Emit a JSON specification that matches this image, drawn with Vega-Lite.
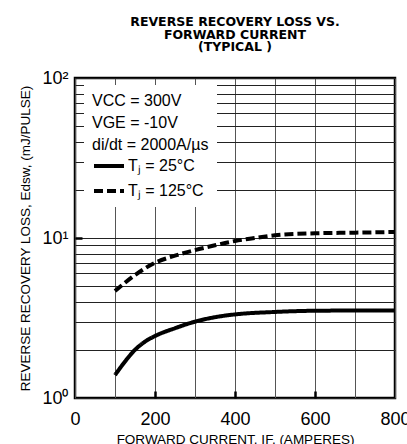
{
  "$schema": "https://vega.github.io/schema/vega-lite/v6.json",
  "width": 320,
  "height": 320,
  "autosize": {"type": "none"},
  "padding": {"left": 75, "top": 78, "right": 12, "bottom": 46},
  "background": "white",
  "title": {
    "text": ["REVERSE RECOVERY LOSS VS.", "FORWARD CURRENT", "(TYPICAL )"],
    "font": "DejaVu Sans",
    "fontSize": 12.5,
    "fontWeight": "bold",
    "lineHeight": 12.8,
    "anchor": "middle",
    "frame": "group",
    "offset": 15,
    "color": "black"
  },
  "config": {
    "view": {"stroke": "black", "strokeWidth": 2.5},
    "font": "Liberation Sans"
  },
  "data": {
    "values": [
      {"I": 100, "E": 1.39, "Tj": "Tⱼ = 25°C"},
      {"I": 125, "E": 1.69, "Tj": "Tⱼ = 25°C"},
      {"I": 150, "E": 2.0, "Tj": "Tⱼ = 25°C"},
      {"I": 175, "E": 2.25, "Tj": "Tⱼ = 25°C"},
      {"I": 200, "E": 2.44, "Tj": "Tⱼ = 25°C"},
      {"I": 250, "E": 2.73, "Tj": "Tⱼ = 25°C"},
      {"I": 300, "E": 3.0, "Tj": "Tⱼ = 25°C"},
      {"I": 350, "E": 3.2, "Tj": "Tⱼ = 25°C"},
      {"I": 400, "E": 3.33, "Tj": "Tⱼ = 25°C"},
      {"I": 500, "E": 3.45, "Tj": "Tⱼ = 25°C"},
      {"I": 600, "E": 3.51, "Tj": "Tⱼ = 25°C"},
      {"I": 700, "E": 3.52, "Tj": "Tⱼ = 25°C"},
      {"I": 800, "E": 3.52, "Tj": "Tⱼ = 25°C"},
      {"I": 100, "E": 4.66, "Tj": "Tⱼ = 125°C"},
      {"I": 150, "E": 5.87, "Tj": "Tⱼ = 125°C"},
      {"I": 200, "E": 7.0, "Tj": "Tⱼ = 125°C"},
      {"I": 250, "E": 7.75, "Tj": "Tⱼ = 125°C"},
      {"I": 300, "E": 8.4, "Tj": "Tⱼ = 125°C"},
      {"I": 350, "E": 9.0, "Tj": "Tⱼ = 125°C"},
      {"I": 400, "E": 9.58, "Tj": "Tⱼ = 125°C"},
      {"I": 450, "E": 10.0, "Tj": "Tⱼ = 125°C"},
      {"I": 500, "E": 10.4, "Tj": "Tⱼ = 125°C"},
      {"I": 600, "E": 10.7, "Tj": "Tⱼ = 125°C"},
      {"I": 700, "E": 10.8, "Tj": "Tⱼ = 125°C"},
      {"I": 800, "E": 10.9, "Tj": "Tⱼ = 125°C"}
    ]
  },
  "mark": {"type": "line", "interpolate": "monotone", "strokeWidth": 4, "color": "black"},
  "encoding": {
    "x": {
      "field": "I",
      "type": "quantitative",
      "scale": {"domain": [0, 800], "nice": false},
      "axis": {
        "values": [0, 100, 200, 300, 400, 500, 600, 700, 800],
        "labelExpr": "datum.value % 200 == 0 ? datum.label : ''",
        "format": "d",
        "labelFont": "Liberation Sans",
        "labelFontSize": 18,
        "labelColor": "black",
        "labelFlush": false,
        "labelOverlap": false,
        "labelBound": false,
        "labelPadding": 19,
        "domain": false,
        "grid": true,
        "gridColor": "#555555",
        "gridWidth": 1,
        "gridOpacity": 1,
        "ticks": true,
        "tickSize": -7,
        "tickColor": "black",
        "tickWidth": {"condition": {"test": "datum.value == 200 || datum.value == 400 || datum.value == 600", "value": 2.5}, "value": 0},
        "title": "FORWARD CURRENT, IF, (AMPERES)",
        "titleFont": "Liberation Sans",
        "titleFontSize": 13.5,
        "titleFontWeight": "normal",
        "titleColor": "black",
        "titlePadding": 4
      }
    },
    "y": {
      "field": "E",
      "type": "quantitative",
      "scale": {"type": "log", "domain": [1, 100], "nice": false},
      "axis": {
        "values": [1, 2, 3, 4, 5, 6, 7, 8, 9, 10, 20, 30, 40, 50, 60, 70, 80, 90, 100],
        "labelExpr": "datum.value == 1 ? '10⁰' : datum.value == 10 ? '10¹' : datum.value == 100 ? '10²' : ''",
        "labelFont": "Liberation Sans",
        "labelFontSize": 18,
        "labelColor": "black",
        "labelFlush": false,
        "labelOverlap": false,
        "labelBound": false,
        "labelPadding": 14,
        "domain": false,
        "grid": true,
        "gridColor": "#222222",
        "gridWidth": 1,
        "gridOpacity": 1,
        "ticks": true,
        "tickSize": -7,
        "tickColor": "black",
        "tickWidth": {"condition": {"test": "datum.value == 10", "value": 2.5}, "value": 0},
        "title": "REVERSE RECOVERY LOSS, Edsw, (mJ/PULSE)",
        "titleFont": "Liberation Sans",
        "titleFontSize": 13.5,
        "titleFontWeight": "normal",
        "titleColor": "black",
        "titlePadding": 9
      }
    },
    "strokeDash": {
      "field": "Tj",
      "type": "nominal",
      "scale": {"domain": ["Tⱼ = 25°C", "Tⱼ = 125°C"], "range": [[1, 0], [9, 4]]},
      "legend": {
        "orient": "none",
        "legendX": 9,
        "legendY": 7,
        "fillColor": "white",
        "padding": 8,
        "title": ["VCC = 300V", "VGE = -10V", "di/dt = 2000A/µs"],
        "titleFont": "Liberation Sans",
        "titleFontSize": 16,
        "titleFontWeight": "normal",
        "titleColor": "black",
        "titleLineHeight": 22,
        "titlePadding": -4,
        "labelFont": "Liberation Sans",
        "labelFontSize": 16,
        "labelColor": "black",
        "labelOffset": 2,
        "symbolType": "stroke",
        "symbolSize": 900,
        "symbolStrokeWidth": 4,
        "symbolStrokeColor": "black",
        "rowPadding": -14
      }
    }
  }
}
